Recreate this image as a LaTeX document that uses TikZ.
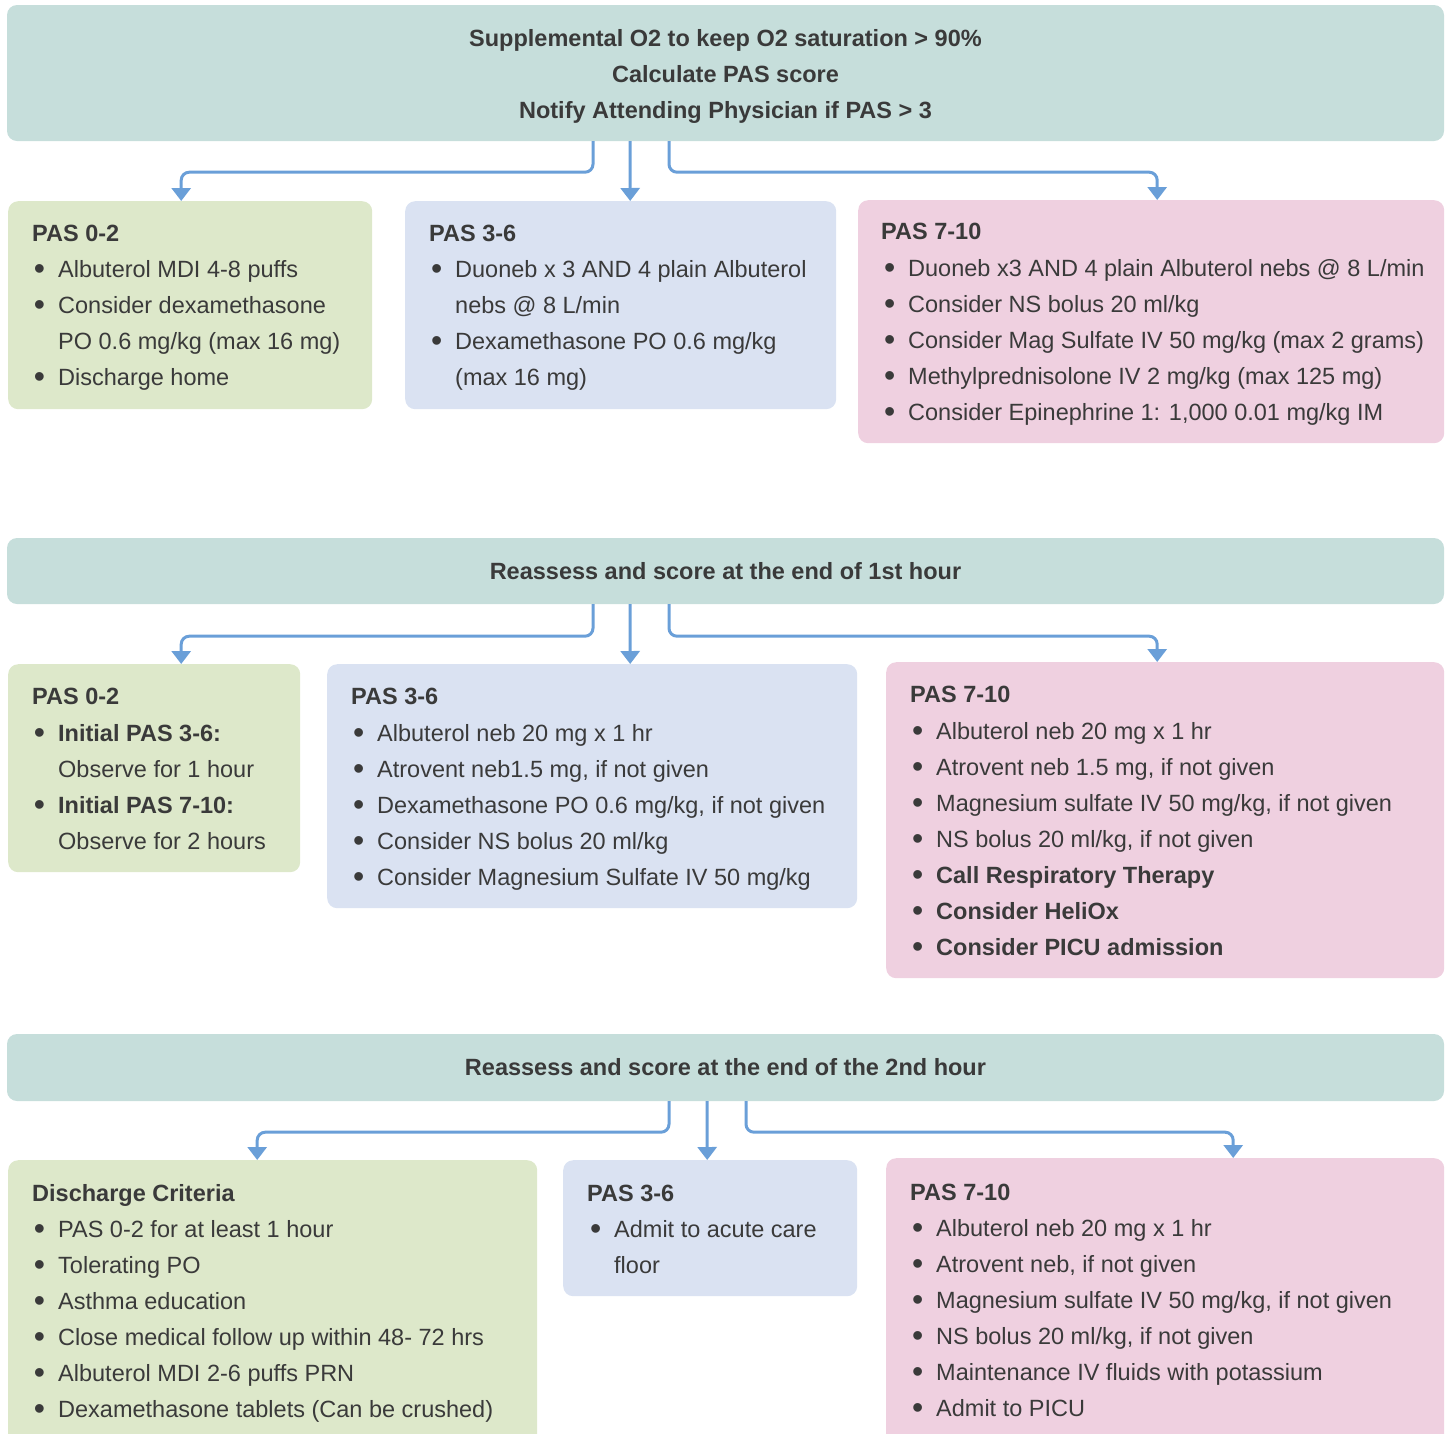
\documentclass[tikz,border=0pt]{standalone}
\usepackage{fontspec}
\setmainfont{Liberation Sans}
\usetikzlibrary{arrows.meta}
\definecolor{bandc}{HTML}{C6DEDB}
\definecolor{grn}{HTML}{DDE8CA}
\definecolor{blu}{HTML}{DAE2F2}
\definecolor{pnk}{HTML}{EFD0E0}
\definecolor{ink}{HTML}{3A3A3A}
\definecolor{arrowc}{HTML}{6A9FD8}
\newcommand\bul{\llap{\raisebox{-2.6pt}{\fontsize{32}{36}\selectfont\textbullet}\hspace{13pt}}}
\newcommand\Lines[4]{%
  \foreach \t [count=\i] in {#4} {\node[txt] (#1-\i) at (#2, #3+36*\i-36) {\t};}}
\begin{document}
\begin{tikzpicture}[x=1pt,y=-1pt,
  box/.style={rounded corners=10pt, inner sep=0pt, anchor=north west, draw=none},
  band/.style={rounded corners=10pt, fill=bandc, minimum width=1437pt, inner sep=0pt, align=center, text=ink, font=\fontsize{23.5}{36}\selectfont\bfseries},
  txt/.style={anchor=base west, inner sep=0pt, text=ink, font=\fontsize{23.5}{36}\selectfont},
  hd/.style={txt, font=\fontsize{23.5}{36}\selectfont\bfseries},
  arr/.style={draw=arrowc, line width=3pt, rounded corners=8pt, -{Triangle[width=19pt,length=13pt]}}]
\useasboundingbox (0,0) rectangle (1449,1433);

% bands
\node[band, minimum height=136pt] (band1) at (725.5,73) {};
\node[txt, anchor=center, align=center, font=\fontsize{23.5}{36}\selectfont\bfseries] (band1t) at (725.5,76) {Supplemental O2 to keep O2 saturation > 90\%\\Calculate PAS score\\Notify Attending Physician if PAS > 3};
\node[band, minimum height=66pt] (band2) at (725.5,571) {Reassess and score at the end of 1st hour};
\node[band, minimum height=67pt] (band3) at (725.5,1067.5) {Reassess and score at the end of the 2nd hour};

% row 1 boxes
\node[box, fill=grn, minimum width=364pt, minimum height=208pt] (g1) at (8,201) {};
\node[box, fill=blu, minimum width=431pt, minimum height=208pt] (b1) at (405,201) {};
\node[box, fill=pnk, minimum width=586pt, minimum height=243pt] (p1) at (858,200) {};
% row 2 boxes
\node[box, fill=grn, minimum width=292pt, minimum height=208pt] (g2) at (8,664) {};
\node[box, fill=blu, minimum width=530pt, minimum height=244pt] (b2) at (327,664) {};
\node[box, fill=pnk, minimum width=558pt, minimum height=316pt] (p2) at (886,662) {};
% row 3 boxes
\node[box, fill=grn, minimum width=529pt, minimum height=300pt] (g3) at (8,1160) {};
\node[box, fill=blu, minimum width=294pt, minimum height=136pt] (b3) at (563,1160) {};
\node[box, fill=pnk, minimum width=558pt, minimum height=300pt] (p3) at (886,1158) {};

% arrows row 1
\draw[arr] ([xshift=-132.5pt]band1.south) -- ++(0,31) -| ([xshift=-9pt]g1.north);
\draw[arr] ([xshift=-95.5pt]band1.south) -- ([xshift=9.5pt]b1.north);
\draw[arr] ([xshift=-56.5pt]band1.south) -- ++(0,31) -| ([xshift=6pt]p1.north);
% arrows row 2
\draw[arr] ([xshift=-132.5pt]band2.south) -- ++(0,32) -| ([xshift=27pt]g2.north);
\draw[arr] ([xshift=-95.5pt]band2.south) -- ([xshift=38pt]b2.north);
\draw[arr] ([xshift=-56.5pt]band2.south) -- ++(0,32) -| ([xshift=-8pt]p2.north);
% arrows row 3
\draw[arr] ([xshift=-56.5pt]band3.south) -- ++(0,31) -| ([xshift=-15.5pt]g3.north);
\draw[arr] ([xshift=-18.5pt]band3.south) -- ([xshift=-3pt]b3.north);
\draw[arr] ([xshift=20.5pt]band3.south) -- ++(0,31) -| ([xshift=68pt]p3.north);

% row 1 text
\node[hd] (g1h) at (32,241) {PAS 0-2};
\Lines{g1t}{58}{277}{\bul Albuterol MDI 4-8 puffs, \bul Consider dexamethasone, PO 0.6 mg/kg (max 16 mg), \bul Discharge home}
\node[hd] (b1h) at (429,241) {PAS 3-6};
\Lines{b1t}{455}{277}{\bul Duoneb x 3 AND 4 plain Albuterol, nebs @ 8 L/min, \bul Dexamethasone PO 0.6 mg/kg, (max 16 mg)}
\node[hd] (p1h) at (881,239) {PAS 7-10};
\Lines{p1t}{908}{276}{\bul Duoneb x3 AND 4 plain Albuterol nebs @ 8 L/min, \bul Consider NS bolus 20 ml/kg, \bul Consider Mag Sulfate IV 50 mg/kg (max 2 grams), \bul Methylprednisolone IV 2 mg/kg (max 125 mg), {\bul Consider Epinephrine 1: 1,000 0.01 mg/kg IM}}

% row 2 text
\node[hd] (g2h) at (32,704) {PAS 0-2};
\Lines{g2t}{58}{741}{\bul\textbf{Initial PAS 3-6:}, Observe for 1 hour, \bul\textbf{Initial PAS 7-10:}, Observe for 2 hours}
\node[hd] (b2h) at (351,704) {PAS 3-6};
\Lines{b2t}{377}{741}{\bul Albuterol neb 20 mg x 1 hr, {\bul Atrovent neb1.5 mg, if not given}, {\bul Dexamethasone PO 0.6 mg/kg, if not given}, \bul Consider NS bolus 20 ml/kg, \bul Consider Magnesium Sulfate IV 50 mg/kg}
\node[hd] (p2h) at (910,702) {PAS 7-10};
\Lines{p2t}{936}{739}{\bul Albuterol neb 20 mg x 1 hr, {\bul Atrovent neb 1.5 mg, if not given}, {\bul Magnesium sulfate IV 50 mg/kg, if not given}, {\bul NS bolus 20 ml/kg, if not given}, \bul\textbf{Call Respiratory Therapy}, \bul\textbf{Consider HeliOx}, \bul\textbf{Consider PICU admission}}

% row 3 text
\node[hd] (g3h) at (32,1201) {Discharge Criteria};
\Lines{g3t}{58}{1237}{\bul PAS 0-2 for at least 1 hour, \bul Tolerating PO, \bul Asthma education, \bul Close medical follow up within 48- 72 hrs, \bul Albuterol MDI 2-6 puffs PRN, \bul Dexamethasone tablets (Can be crushed)}
\node[hd] (b3h) at (587,1201) {PAS 3-6};
\Lines{b3t}{614}{1237}{\bul Admit to acute care, floor}
\node[hd] (p3h) at (910,1200) {PAS 7-10};
\Lines{p3t}{936}{1236}{\bul Albuterol neb 20 mg x 1 hr, {\bul Atrovent neb, if not given}, {\bul Magnesium sulfate IV 50 mg/kg, if not given}, {\bul NS bolus 20 ml/kg, if not given}, \bul Maintenance IV fluids with potassium, \bul Admit to PICU}
\end{tikzpicture}
\end{document}
